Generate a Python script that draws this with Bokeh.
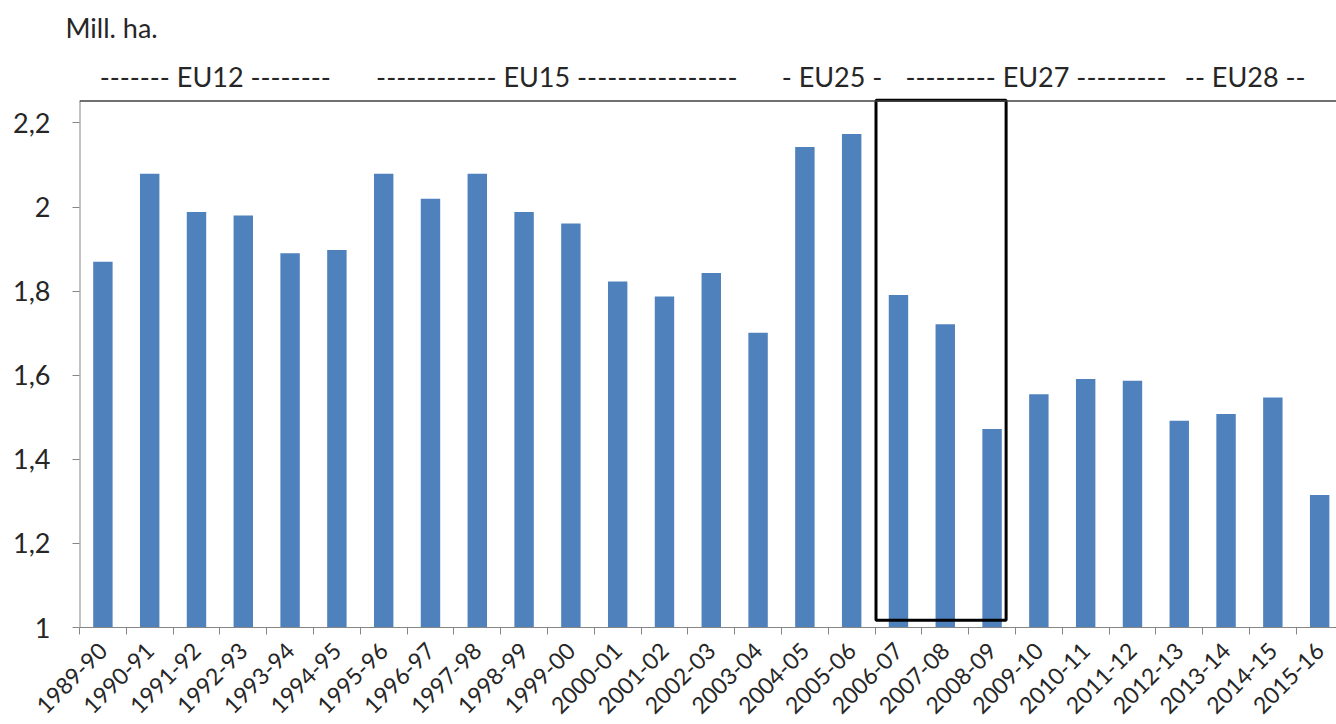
import math
from bokeh.plotting import figure
from bokeh.models import FixedTicker, Span, Range1d, Title
from bokeh.core.properties import value
from bokeh.embed import file_html
from bokeh.resources import INLINE

# ---- data ----
seasons = ["1989-90", "1990-91", "1991-92", "1992-93", "1993-94", "1994-95",
           "1995-96", "1996-97", "1997-98", "1998-99", "1999-00", "2000-01",
           "2001-02", "2002-03", "2003-04", "2004-05", "2005-06", "2006-07",
           "2007-08", "2008-09", "2009-10", "2010-11", "2011-12", "2012-13",
           "2013-14", "2014-15", "2015-16"]
area_mill_ha = [1.870, 2.079, 1.988, 1.980, 1.890, 1.898,
                2.079, 2.020, 2.079, 1.988, 1.961, 1.823,
                1.787, 1.843, 1.701, 2.143, 2.174, 1.791,
                1.721, 1.472, 1.555, 1.591, 1.587, 1.492,
                1.508, 1.547, 1.315]
y_ticks = [1.0, 1.2, 1.4, 1.6, 1.8, 2.0, 2.2]
y_tick_labels = ["1", "1,2", "1,4", "1,6", "1,8", "2", "2,2"]
eu_labels_c = ["------- EU12 --------", "------------ EU15 ----------------",
               "- EU25 -", "--------- EU27 ---------"]
eu_centers_c = [2.4, 9.7, 15.58, 19.94]
eu_labels_l = ["-- EU28 --"]
eu_starts_l = [23.12]
highlight_from, highlight_to = "2006-07", "2008-09"
unit_label = "Mill. ha."

FONT = "Lato"
TXT = "#262626"
AX = "#868686"
BAR = "#4F81BD"

n = len(seasons)
xs = list(range(n))

Y0 = 1.0
Y_TOP = 2.252          # top border of the plot area
Y_END = 2.370          # room above for the EU labels
EU_Y = 2.311

p = figure(width=1336, height=724, output_backend="svg", toolbar_location=None,
           x_range=Range1d(-0.5, 26.36), y_range=Range1d(Y0, Y_END),
           min_border_left=79, min_border_right=0, min_border_top=50,
           min_border_bottom=94)
p.outline_line_color = None
p.xgrid.visible = False
p.ygrid.visible = False
p.background_fill_color = "white"
p.border_fill_color = "white"

t = Title(text=unit_label, align="left", offset=-14, text_font=FONT,
          text_font_size="27px", text_font_style="normal", text_color=TXT,
          standoff=16)
p.add_layout(t, "above")

p.vbar(x=xs, top=area_mill_ha, bottom=Y0, width=0.415, color=BAR, line_color=None)

# plot-area top border and left axis line
p.add_layout(Span(location=Y_TOP, dimension="width", line_color="#404040", line_width=1.5))
p.segment(x0=[-0.5], y0=[Y0], x1=[-0.5], y1=[Y_TOP], line_color=AX, line_width=2)

# highlight box around 2006-07 .. 2008-09
i0 = seasons.index(highlight_from)
i1 = seasons.index(highlight_to)
p.quad(left=[i0 - 0.48], right=[i1 + 0.30], bottom=[1.017], top=[2.254],
       fill_color=None, line_color="black", line_width=3)

# EU period labels
p.text(x=eu_centers_c, y=[EU_Y] * len(eu_centers_c), text=eu_labels_c,
       text_align="center", text_baseline="middle", text_font=value(FONT),
       text_font_size="27px", text_color=TXT)
p.text(x=eu_starts_l, y=[EU_Y] * len(eu_starts_l), text=eu_labels_l,
       text_align="left", text_baseline="middle", text_font=value(FONT),
       text_font_size="27px", text_color=TXT)

# x axis: labels at centres, tick marks at boundaries
xa = p.xaxis[0]
xa.ticker = FixedTicker(ticks=xs, minor_ticks=[i - 0.5 for i in range(n + 1)])
xa.major_label_overrides = {i: s for i, s in enumerate(seasons)}
xa.major_label_orientation = math.pi / 4
xa.major_tick_out = 0
xa.major_tick_in = 0
xa.minor_tick_out = 7
xa.minor_tick_in = 0
xa.minor_tick_line_color = AX
xa.axis_line_color = AX
xa.major_label_text_font = FONT
xa.major_label_text_font_size = "23px"
xa.major_label_text_color = TXT
xa.major_label_standoff = 12

ya = p.yaxis[0]
ya.ticker = FixedTicker(ticks=y_ticks, minor_ticks=[])
ya.major_label_overrides = {v: s for v, s in zip(y_ticks, y_tick_labels)}
ya.major_tick_out = 7
ya.major_tick_in = 0
ya.major_tick_line_color = AX
ya.axis_line_color = None
ya.major_label_text_font = FONT
ya.major_label_text_font_size = "27px"
ya.major_label_text_color = TXT
ya.major_label_standoff = 22

open("out.html", "w").write(file_html(p, INLINE))
